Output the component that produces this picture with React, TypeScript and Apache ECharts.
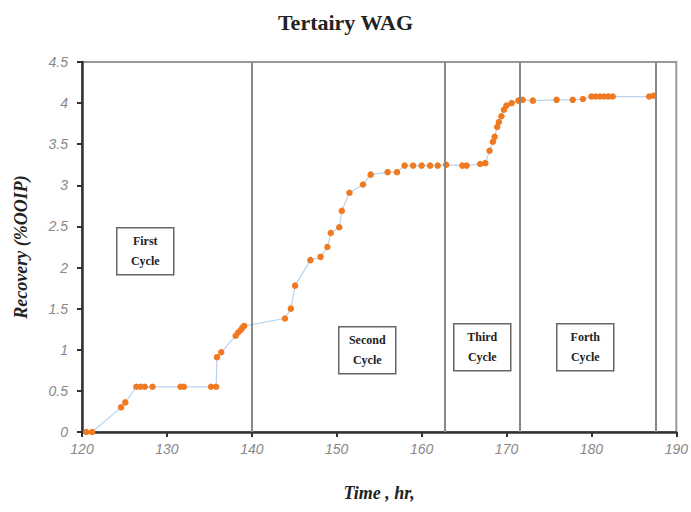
import React, { useEffect, useRef } from "react";
import * as echarts from "echarts";

// Oil recovery during tertiary WAG injection
const timeHr = [
  120.5, 121.2, 124.6, 125.1, 126.4, 126.9, 127.4, 128.3, 131.6, 132.0, 135.2, 135.8,
  135.9, 136.4, 138.1, 138.4, 138.7, 138.9, 139.1, 143.9, 144.6, 145.1, 146.9, 148.1,
  148.9, 149.3, 150.3, 150.6, 151.5, 153.1, 154.0, 156.0, 157.1, 158.0, 159.0, 160.0,
  161.0, 161.9, 162.9, 164.8, 165.3, 166.9, 167.5, 168.0, 168.4, 168.6, 168.9, 169.1,
  169.4, 169.7, 170.0, 170.6, 171.4, 171.9, 173.1, 175.9, 177.8, 179.0, 180.0, 180.5,
  181.0, 181.5, 182.0, 182.5, 186.8, 187.3,
];
const recoveryPct = [
  0, 0, 0.3, 0.36, 0.55, 0.55, 0.55, 0.55, 0.55, 0.55, 0.55, 0.55,
  0.91, 0.97, 1.17, 1.21, 1.24, 1.27, 1.29, 1.38, 1.5, 1.78, 2.09, 2.13,
  2.25, 2.42, 2.49, 2.69, 2.91, 3.01, 3.13, 3.16, 3.16, 3.24, 3.24, 3.24,
  3.24, 3.24, 3.25, 3.24, 3.24, 3.26, 3.27, 3.42, 3.53, 3.59, 3.71, 3.77,
  3.84, 3.92, 3.97, 4.0, 4.03, 4.04, 4.03, 4.04, 4.04, 4.05, 4.08, 4.08,
  4.08, 4.08, 4.08, 4.08, 4.08, 4.09,
];
// End of each injection cycle (hr)
const cycleEnds = [140, 162.7, 171.6, 187.6];
const cycleNames = ["First", "Second", "Third", "Forth"];
const xTicks = { min: 120, max: 190, interval: 10 };
const yTicks = { min: 0, max: 4.5, interval: 0.5 };

// Label box placement (pixels, top-left)
const boxPos = [
  [116, 227],
  [338, 326],
  [453, 323],
  [556, 323],
];

export default function App() {
  const ref = useRef<HTMLDivElement>(null);

  useEffect(() => {
    document.body.style.margin = "0";
    if (!ref.current) return;
    const chart = echarts.init(ref.current, undefined, { renderer: "svg" });

    const boxes = cycleNames.map((name, i) => ({
      type: "group",
      left: boxPos[i][0],
      top: boxPos[i][1],
      children: [
        {
          type: "rect",
          shape: { x: 0, y: 0, width: 57, height: 47 },
          style: { fill: "#fff", stroke: "#666", lineWidth: 1.5 },
        },
        {
          type: "text",
          x: 28.5,
          y: 23,
          style: {
            text: name + "\nCycle",
            align: "center",
            verticalAlign: "middle",
            font: "bold 12px 'Liberation Serif', serif",
            lineHeight: 20,
            fill: "#222",
          },
        },
      ],
    }));

    const titleFont = {
      fontFamily: "'Liberation Serif', serif",
      fontWeight: "bold",
      fontStyle: "italic",
      fontSize: 18,
      color: "#222",
    };
    const tickFont = {
      fontFamily: "'Liberation Sans', Arial, sans-serif",
      fontStyle: "italic",
      fontSize: 14,
      color: "#888",
    };

    chart.setOption({
      animation: false,
      backgroundColor: "#fff",
      title: {
        text: "Tertairy WAG",
        left: "center",
        top: 6,
        textStyle: {
          fontFamily: "'Liberation Serif', serif",
          fontWeight: "bold",
          fontSize: 22,
          color: "#222",
        },
      },
      grid: {
        left: 82,
        right: 14,
        top: 62,
        bottom: 80,
        show: true,
        borderColor: "#999",
        borderWidth: 2,
      },
      xAxis: {
        type: "value",
        ...xTicks,
        name: "Time , hr,",
        nameLocation: "middle",
        nameGap: 52,
        nameTextStyle: titleFont,
        axisLine: { lineStyle: { color: "#333", width: 2.5 } },
        axisTick: { show: true, length: 5, lineStyle: { color: "#333", width: 2 } },
        splitLine: { show: false },
        axisLabel: { ...tickFont, margin: 10 },
      },
      yAxis: {
        type: "value",
        ...yTicks,
        name: "Recovery (%OOIP)",
        nameLocation: "middle",
        nameGap: 52,
        nameTextStyle: titleFont,
        axisLine: { show: true, lineStyle: { color: "#333", width: 2.5 } },
        axisTick: { show: true, length: 5, lineStyle: { color: "#333", width: 2 } },
        splitLine: { show: false },
        axisLabel: { ...tickFont, margin: 14 },
      },
      series: [
        {
          type: "line",
          data: timeHr.map((t, i) => [t, recoveryPct[i]]),
          symbol: "circle",
          symbolSize: 6.5,
          itemStyle: { color: "#f07a22" },
          lineStyle: { color: "#b9d3ef", width: 1.2 },
          markLine: {
            silent: true,
            symbol: ["none", "none"],
            label: { show: false },
            lineStyle: { color: "#888", width: 2, type: "solid" },
            data: cycleEnds.map((x) => ({ xAxis: x })),
          },
          z: 3,
        },
      ],
      graphic: boxes,
    });

    return () => chart.dispose();
  }, []);

  return <div ref={ref} style={{ width: 691, height: 512 }} />;
}
